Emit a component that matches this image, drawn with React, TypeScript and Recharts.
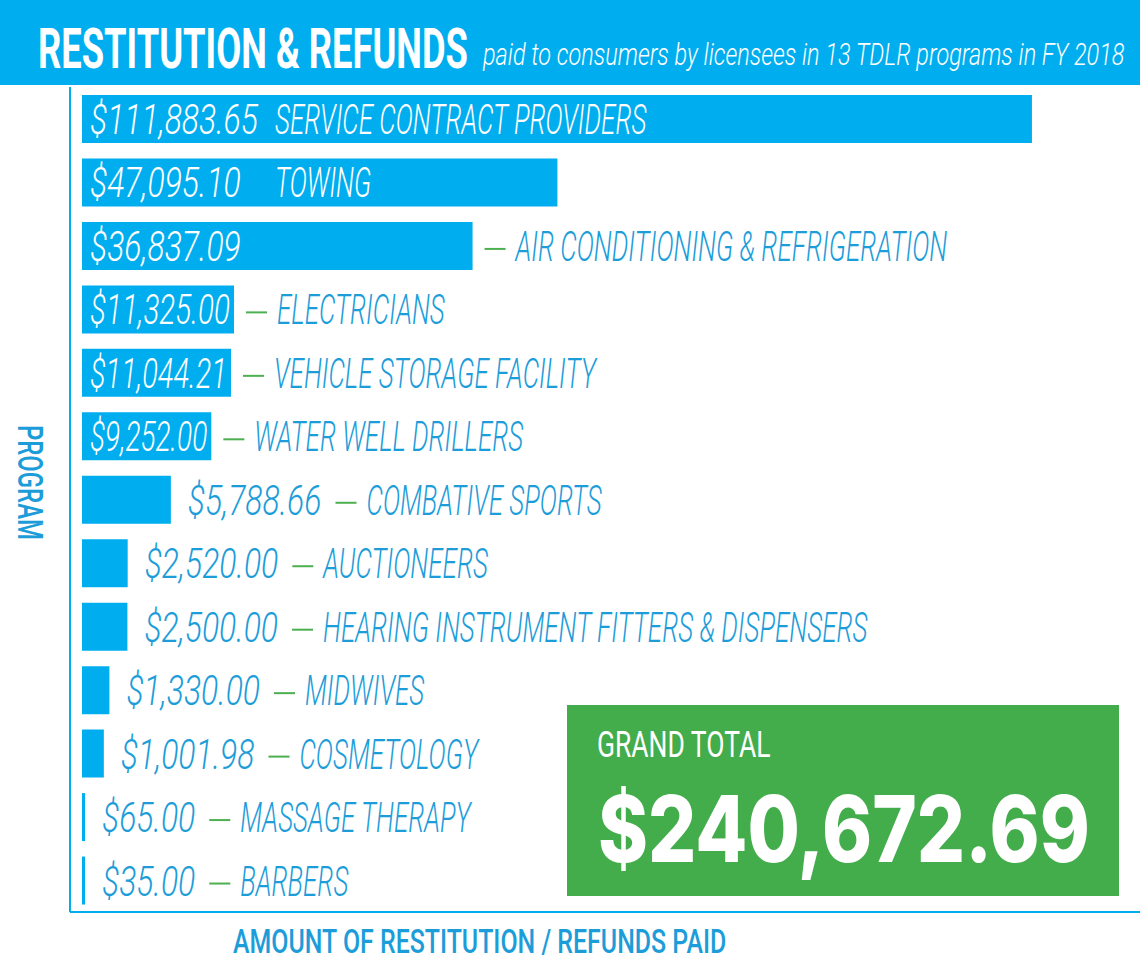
import React from "react";
import { BarChart, Bar, XAxis, YAxis, LabelList } from "recharts";

const programs = [
  "SERVICE CONTRACT PROVIDERS",
  "TOWING",
  "AIR CONDITIONING & REFRIGERATION",
  "ELECTRICIANS",
  "VEHICLE STORAGE FACILITY",
  "WATER WELL DRILLERS",
  "COMBATIVE SPORTS",
  "AUCTIONEERS",
  "HEARING INSTRUMENT FITTERS & DISPENSERS",
  "MIDWIVES",
  "COSMETOLOGY",
  "MASSAGE THERAPY",
  "BARBERS",
];
const amounts = [
  111883.65, 47095.1, 36837.09, 11325.0, 11044.21, 9252.0, 5788.66, 2520.0, 2500.0, 1330.0, 1001.98, 65.0, 35.0,
];
const grandTotal = "$240,672.69";

const BLUE = "#00AEEF";
const TEXT_BLUE = "#1C9DD9";
const GREEN = "#43AC4B";
const DASH_GREEN = "#4CAF50";
const FONT = "Roboto, 'Liberation Sans', sans-serif";
const TOTAL_FONT = "Inter, 'Open Sans', sans-serif";

// the infographic's bars are compressed: their length follows roughly amount^0.8
const EXP = 0.8;

const data = programs.map((program, i) => ({ program, amount: amounts[i] }));

const fmt = (v: number) =>
  "$" + v.toLocaleString("en-US", { minimumFractionDigits: 2, maximumFractionDigits: 2 });

const ctx = typeof document !== "undefined" ? document.createElement("canvas").getContext("2d") : null;
const measure = (s: string, font: string) => {
  if (!ctx) return s.length * 20;
  ctx.font = font;
  return ctx.measureText(s).width;
};

const LABEL_SIZE = 42;
const LABEL_FONT = `italic 300 ${LABEL_SIZE}px ${FONT}`;
// condensed look: squeeze the glyphs horizontally
const AMT_SX = 168 / measure("$111,883.65", LABEL_FONT);
const NAME_SX = 372 / measure("SERVICE CONTRACT PROVIDERS", LABEL_FONT);

function SqText({ x, y, sx, fill, children }: any) {
  return (
    <text
      transform={`translate(${x},${y}) scale(${sx},1)`}
      x={0}
      y={0}
      fill={fill}
      fontFamily={FONT}
      fontStyle="italic"
      fontWeight={300}
      fontSize={LABEL_SIZE}
    >
      {children}
    </text>
  );
}

// header / annotation text squeezed to a given width
function FitText({ x, y, w, size, weight = 400, italic = false, family = FONT, fill, rotate = 0, children }: any) {
  const font = `${italic ? "italic " : ""}${weight} ${size}px ${family}`;
  const sx = w / measure(children, font);
  return (
    <text
      transform={`translate(${x},${y}) rotate(${rotate}) scale(${sx},1)`}
      x={0}
      y={0}
      fill={fill}
      fontFamily={family}
      fontWeight={weight}
      fontStyle={italic ? "italic" : "normal"}
      fontSize={size}
    >
      {children}
    </text>
  );
}

function renderLabel(props: any) {
  const { x, y, width, height, value } = props;
  const i = programs.indexOf(value);
  if (i < 0) return null;
  const amt = fmt(amounts[i]);
  const name = programs[i];
  const base = y + height / 2 + 15;
  const mid = y + height / 2 + 3;
  const end = x + width;
  const amtW = measure(amt, LABEL_FONT) * AMT_SX;
  const nameW = measure(name, LABEL_FONT) * NAME_SX;

  // amount and name both inside the bar
  if (width > 193 + nameW + 20) {
    return (
      <g>
        <SqText x={x + 8} y={base} sx={AMT_SX} fill="#fff">{amt}</SqText>
        <SqText x={x + 193} y={base} sx={NAME_SX} fill="#fff">{name}</SqText>
      </g>
    );
  }
  // amount inside (squeezed if needed), name outside
  if (width >= amtW * 0.85 + 10) {
    const sx = Math.min(AMT_SX, (AMT_SX * (width - 12)) / amtW);
    return (
      <g>
        <SqText x={x + 8} y={base} sx={sx} fill="#fff">{amt}</SqText>
        <line x1={end + 12} x2={end + 33} y1={mid} y2={mid} stroke={DASH_GREEN} strokeWidth={2} />
        <SqText x={end + 43} y={base} sx={NAME_SX} fill={TEXT_BLUE}>{name}</SqText>
      </g>
    );
  }
  // everything outside
  const ax = end + 17;
  const dx = ax + amtW + 14;
  return (
    <g>
      <SqText x={ax} y={base} sx={AMT_SX} fill={TEXT_BLUE}>{amt}</SqText>
      <line x1={dx} x2={dx + 21} y1={mid} y2={mid} stroke={DASH_GREEN} strokeWidth={2} />
      <SqText x={dx + 31} y={base} sx={NAME_SX} fill={TEXT_BLUE}>{name}</SqText>
    </g>
  );
}

export default function App() {
  return (
    <div style={{ position: "absolute", left: 0, top: 0, width: 1140, height: 962, background: "#fff", overflow: "hidden" }}>
      <BarChart
        width={1140}
        height={962}
        data={data}
        layout="vertical"
        margin={{ top: 87, right: 0, bottom: 0, left: 0 }}
      >
        <XAxis
          type="number"
          domain={[0, 12000]}
          allowDataOverflow
          padding={{ left: 12, right: 16 }}
          height={50}
          tick={false}
          tickLine={false}
          axisLine={{ stroke: BLUE, strokeWidth: 2 }}
        />
        <YAxis
          type="category"
          dataKey="program"
          width={70}
          tick={false}
          tickLine={false}
          axisLine={{ stroke: BLUE, strokeWidth: 2 }}
        />
        <Bar
          dataKey={(d: any) => Math.pow(d.amount, EXP)}
          fill={BLUE}
          barSize={48}
          minPointSize={3}
          isAnimationActive={false}
        >
          <LabelList dataKey="program" content={renderLabel} />
        </Bar>
      </BarChart>

      <svg width={1140} height={962} style={{ position: "absolute", left: 0, top: 0, pointerEvents: "none" }}>
        <rect x={0} y={0} width={1140} height={85} fill={BLUE} />
        <FitText x={38} y={68} w={430} size={56} weight={700} fill="#fff">
          RESTITUTION &amp; REFUNDS
        </FitText>
        <FitText x={483} y={65} w={642} size={31} weight={300} italic fill="#fff">
          paid to consumers by licensees in 13 TDLR programs in FY 2018
        </FitText>

        <FitText x={18} y={425} w={115} size={36} weight={500} rotate={90} fill={TEXT_BLUE}>
          PROGRAM
        </FitText>
        <FitText x={233} y={953} w={494} size={34} weight={500} fill={TEXT_BLUE}>
          AMOUNT OF RESTITUTION / REFUNDS PAID
        </FitText>

        <rect x={567} y={705} width={552} height={191} fill={GREEN} />
        <FitText x={597} y={757} w={174} size={37} fill="#fff">
          GRAND TOTAL
        </FitText>
        <FitText x={598} y={862} w={492} size={92} weight={800} family={TOTAL_FONT} fill="#fff">
          {grandTotal}
        </FitText>
      </svg>
    </div>
  );
}
